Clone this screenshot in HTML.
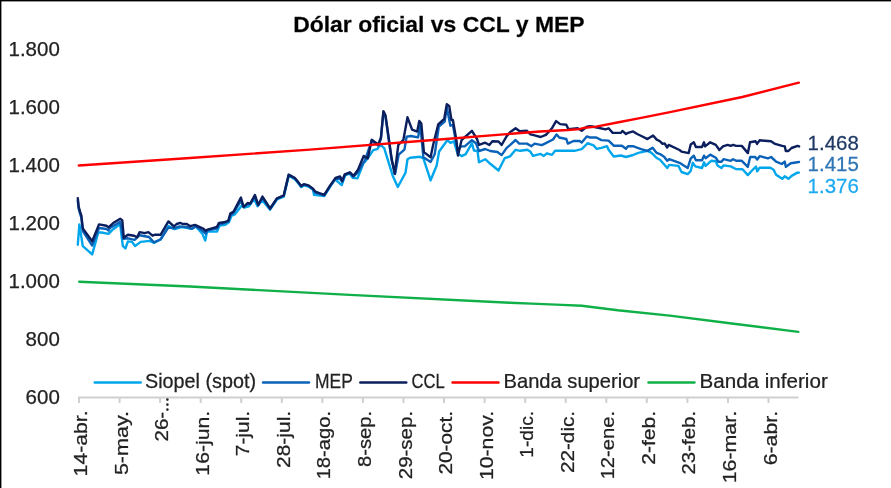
<!DOCTYPE html>
<html><head><meta charset="utf-8"><style>
html,body{margin:0;padding:0;background:#fff;}
body{width:891px;height:488px;overflow:hidden;position:relative;}
svg{position:absolute;left:0;top:0;will-change:transform;}
text{font-family:"Liberation Sans",sans-serif;fill:#222;stroke:#222;stroke-width:0.25px;}
.yl{font-size:20.5px;}
.xl{font-size:19px;}
.tt{font-size:22.5px;font-weight:bold;fill:#000;}
.lg{font-size:20px;}
.vl{font-size:21px;}
</style></head><body>
<svg width="891" height="488" viewBox="0 0 891 488">
<rect x="0" y="0" width="891" height="488" fill="#fff"/>
<text class="tt" transform="translate(438.9,32.1) scale(1.02,1)" text-anchor="middle">Dólar oficial vs CCL y MEP</text>
<text x="59.8" y="403.60" class="yl" text-anchor="end">600</text>
<text x="59.8" y="345.68" class="yl" text-anchor="end">800</text>
<text x="59.8" y="287.76" class="yl" text-anchor="end">1.000</text>
<text x="59.8" y="229.84" class="yl" text-anchor="end">1.200</text>
<text x="59.8" y="171.92" class="yl" text-anchor="end">1.400</text>
<text x="59.8" y="114.00" class="yl" text-anchor="end">1.600</text>
<text x="59.8" y="56.08" class="yl" text-anchor="end">1.800</text>
<path d="M78 397.4 H798.5" stroke="#d0d0d0" stroke-width="2" fill="none"/>
<path d="M79.0 397.4 V403 M119.6 397.4 V403 M160.1 397.4 V403 M200.7 397.4 V403 M241.2 397.4 V403 M281.8 397.4 V403 M322.4 397.4 V403 M362.9 397.4 V403 M403.5 397.4 V403 M444.0 397.4 V403 M484.6 397.4 V403 M525.2 397.4 V403 M565.7 397.4 V403 M606.3 397.4 V403 M646.8 397.4 V403 M687.4 397.4 V403 M728.0 397.4 V403 M768.5 397.4 V403" stroke="#d0d0d0" stroke-width="2" fill="none"/>
<text class="xl" transform="translate(79.0,410.40) rotate(-90) scale(1.1158,1)" text-anchor="end" x="0" y="8.0">14-abr.</text>
<text class="xl" transform="translate(119.6,410.90) rotate(-90) scale(1.1347,1)" text-anchor="end" x="0" y="8.0">5-may.</text>
<text class="xl" transform="translate(160.1,411.80) rotate(-90) scale(1.0800,1)" text-anchor="end" x="0" y="8.0">26-</text>
<circle cx="167.4" cy="399.6" r="1.3" fill="#262626"/>
<circle cx="167.4" cy="404.6" r="1.3" fill="#262626"/>
<circle cx="167.4" cy="409.6" r="1.3" fill="#262626"/>
<text class="xl" transform="translate(200.7,410.90) rotate(-90) scale(1.1144,1)" text-anchor="end" x="0" y="8.0">16-jun.</text>
<text class="xl" transform="translate(241.2,410.90) rotate(-90) scale(1.1006,1)" text-anchor="end" x="0" y="8.0">7-jul.</text>
<text class="xl" transform="translate(281.8,410.90) rotate(-90) scale(1.1021,1)" text-anchor="end" x="0" y="8.0">28-jul.</text>
<text class="xl" transform="translate(322.4,410.90) rotate(-90) scale(1.0630,1)" text-anchor="end" x="0" y="8.0">18-ago.</text>
<text class="xl" transform="translate(362.9,410.90) rotate(-90) scale(1.0609,1)" text-anchor="end" x="0" y="8.0">8-sep.</text>
<text class="xl" transform="translate(403.5,410.90) rotate(-90) scale(1.0793,1)" text-anchor="end" x="0" y="8.0">29-sep.</text>
<text class="xl" transform="translate(444.0,410.90) rotate(-90) scale(1.0965,1)" text-anchor="end" x="0" y="8.0">20-oct.</text>
<text class="xl" transform="translate(484.6,410.90) rotate(-90) scale(1.1151,1)" text-anchor="end" x="0" y="8.0">10-nov.</text>
<text class="xl" transform="translate(525.2,410.90) rotate(-90) scale(1.0097,1)" text-anchor="end" x="0" y="8.0">1-dic.</text>
<text class="xl" transform="translate(565.7,410.90) rotate(-90) scale(1.0909,1)" text-anchor="end" x="0" y="8.0">22-dic.</text>
<text class="xl" transform="translate(606.3,410.90) rotate(-90) scale(1.0630,1)" text-anchor="end" x="0" y="8.0">12-ene.</text>
<text class="xl" transform="translate(646.8,410.90) rotate(-90) scale(1.1068,1)" text-anchor="end" x="0" y="8.0">2-feb.</text>
<text class="xl" transform="translate(687.4,410.90) rotate(-90) scale(1.0760,1)" text-anchor="end" x="0" y="8.0">23-feb.</text>
<text class="xl" transform="translate(728.0,410.90) rotate(-90) scale(1.1242,1)" text-anchor="end" x="0" y="8.0">16-mar.</text>
<text class="xl" transform="translate(768.5,410.90) rotate(-90) scale(1.1217,1)" text-anchor="end" x="0" y="8.0">6-abr.</text>
<g fill="none" stroke-width="2.4" stroke-linejoin="round" stroke-linecap="round">
<path d="M77.8 244.7 L79.4 224.4 L82.8 246.1 L92.2 254.4 L98.3 232.5 L101.7 232.5 L108.5 233.9 L113.2 229.2 L120.2 224.0 L122.8 246.0 L125.4 248.5 L127.9 241.4 L132.0 241.9 L135.1 246.0 L140.7 241.9 L150.0 240.9 L154.0 242.9 L160.7 239.3 L168.4 226.0 L174.5 229.1 L181.7 227.0 L185.0 227.6 L191.7 228.9 L195.6 226.2 L202.3 233.6 L205.3 240.6 L207.0 231.6 L217.0 231.6 L219.6 225.6 L224.9 224.9 L228.9 222.3 L231.6 215.6 L234.9 214.3 L242.2 205.0 L244.2 207.6 L248.9 206.3 L254.2 199.0 L257.5 206.3 L262.2 200.3 L270.1 209.7 L276.9 199.5 L283.7 196.7 L288.7 175.8 L294.9 179.2 L297.7 182.6 L301.1 187.1 L303.9 185.4 L308.5 186.6 L313.0 189.9 L314.1 194.9 L324.2 196.1 L329.9 187.1 L335.0 179.4 L341.7 185.1 L345.2 175.3 L349.3 173.3 L352.9 177.9 L357.5 178.4 L363.7 162.5 L365.0 161.9 L369.1 156.3 L373.2 150.1 L377.3 149.1 L380.1 144.6 L384.2 148.2 L392.7 175.7 L397.8 187.0 L405.5 172.7 L407.5 159.3 L410.1 157.8 L420.3 156.8 L423.4 158.3 L430.6 180.3 L436.7 165.5 L439.1 151.5 L447.3 140.2 L450.4 142.8 L454.0 141.3 L457.5 153.6 L461.6 156.1 L465.7 154.1 L471.9 143.3 L473.9 150.5 L477.5 151.0 L479.0 162.3 L485.2 159.2 L490.3 163.8 L498.5 170.5 L504.7 158.2 L510.0 156.4 L515.6 149.8 L520.2 150.8 L527.4 149.8 L530.5 151.8 L533.0 155.9 L540.7 153.9 L543.8 155.9 L546.9 153.3 L552.0 154.9 L555.1 150.8 L574.5 150.8 L581.7 149.2 L587.8 143.1 L590.0 144.1 L593.2 145.2 L596.8 148.8 L601.4 147.8 L607.0 146.2 L608.6 149.8 L613.7 156.5 L620.9 155.5 L626.0 157.0 L633.1 155.0 L638.3 152.9 L647.5 150.9 L651.6 152.9 L656.7 158.0 L660.0 159.8 L663.1 163.3 L667.2 168.0 L669.2 164.9 L678.4 165.9 L681.5 172.0 L687.7 174.1 L690.7 171.0 L692.8 162.8 L695.3 166.4 L702.0 168.0 L704.0 162.3 L705.6 165.9 L711.2 160.8 L715.8 161.3 L717.4 165.4 L721.5 168.0 L723.5 165.4 L730.7 166.4 L735.8 169.0 L742.5 169.3 L747.8 175.1 L751.5 171.0 L756.0 166.5 L757.2 171.4 L759.7 167.7 L770.3 167.7 L773.6 169.8 L776.1 174.7 L782.2 178.8 L784.7 176.3 L788.4 178.8 L791.6 175.9 L797.4 172.6 L799.0 172.6" stroke="#00a6ec"/>
<path d="M77.8 201.0 L78.7 209.0 L80.1 214.0 L81.4 218.0 L82.8 231.0 L92.2 245.5 L99.0 228.0 L106.4 229.0 L108.5 230.5 L110.0 228.0 L120.2 221.9 L123.3 238.8 L127.9 238.3 L134.6 239.8 L139.7 235.2 L149.0 237.0 L153.9 242.4 L160.5 239.5 L168.3 227.6 L174.4 228.4 L179.3 226.4 L187.5 227.2 L191.6 228.9 L195.7 226.4 L203.6 231.6 L205.6 233.7 L207.6 230.3 L217.0 228.5 L219.0 224.3 L223.6 223.3 L228.3 221.5 L230.3 215.4 L233.6 212.7 L240.9 200.8 L243.6 206.9 L247.6 204.3 L250.2 203.9 L254.9 196.9 L258.2 205.1 L262.5 198.0 L270.1 208.9 L276.9 198.7 L283.7 195.9 L288.7 175.0 L294.9 178.4 L297.7 181.8 L301.1 186.3 L303.9 184.6 L308.5 185.8 L313.0 189.1 L315.2 192.7 L324.2 195.3 L329.9 186.3 L335.5 178.6 L340.1 179.0 L342.2 181.9 L344.7 175.1 L349.9 172.9 L353.4 176.6 L358.0 172.3 L365.0 160.0 L371.7 141.0 L378.3 145.5 L380.9 139.0 L383.4 112.3 L385.5 117.0 L391.6 160.0 L395.1 174.0 L398.7 154.6 L404.4 149.6 L406.6 136.7 L410.9 136.0 L418.0 137.4 L420.3 125.5 L423.4 157.3 L430.6 161.9 L434.7 154.2 L438.8 126.5 L444.7 121.6 L446.8 107.2 L450.4 125.7 L452.9 125.1 L457.5 150.0 L461.1 146.4 L464.7 146.4 L471.9 140.2 L476.0 143.3 L479.0 151.0 L485.2 149.0 L490.3 151.0 L497.5 152.0 L501.6 155.1 L506.7 147.9 L510.0 145.1 L515.6 140.0 L519.2 143.6 L526.9 143.6 L531.5 146.2 L534.6 143.6 L541.8 145.1 L545.9 143.1 L553.0 139.5 L556.6 134.4 L559.2 137.5 L566.3 139.0 L567.9 143.6 L573.5 141.0 L579.7 141.0 L581.7 142.6 L586.8 136.4 L590.0 137.5 L596.3 137.5 L601.4 140.1 L608.6 140.6 L613.7 145.7 L621.9 145.7 L626.0 148.8 L628.0 146.2 L633.1 146.2 L636.2 147.3 L641.9 149.3 L647.5 150.9 L652.6 147.8 L656.7 152.9 L660.0 154.1 L664.1 156.7 L667.2 160.8 L669.2 159.2 L679.5 162.8 L687.7 168.0 L690.7 158.7 L693.8 155.7 L695.9 160.3 L702.0 160.3 L704.0 155.7 L705.6 158.2 L710.2 154.6 L715.8 157.7 L718.4 161.8 L721.5 161.8 L723.5 159.2 L730.7 160.8 L733.1 159.2 L736.1 160.8 L741.8 160.8 L747.8 166.9 L750.2 157.0 L755.2 157.0 L757.2 159.5 L759.7 156.2 L767.9 158.3 L771.1 157.0 L776.1 161.6 L781.8 164.0 L784.7 161.6 L785.9 166.9 L790.8 163.2 L799.0 162.0" stroke="#0a62b8"/>
<path d="M77.8 198.1 L78.7 206.9 L80.1 211.6 L81.4 215.6 L82.8 228.5 L92.2 241.2 L99.0 224.4 L106.4 225.8 L108.5 227.4 L113.2 223.1 L120.2 218.8 L122.3 220.4 L123.8 237.8 L127.9 234.7 L134.1 235.7 L137.1 237.3 L139.7 232.1 L144.8 233.2 L148.4 232.1 L152.5 235.7 L155.1 234.7 L160.7 234.7 L168.4 221.4 L174.0 226.5 L176.6 224.0 L180.2 222.9 L182.7 224.0 L186.8 224.0 L190.3 226.2 L195.0 224.9 L203.6 228.9 L205.6 230.9 L207.6 229.6 L217.0 226.9 L219.0 222.9 L223.6 222.3 L228.3 220.9 L230.3 213.6 L233.6 211.6 L240.9 197.6 L243.6 207.0 L247.6 203.0 L250.2 203.6 L254.9 195.0 L258.2 205.0 L262.5 196.6 L270.1 208.5 L276.9 198.3 L283.7 195.5 L288.7 174.6 L294.9 178.0 L297.7 181.4 L301.1 185.9 L303.9 184.2 L308.5 185.4 L313.0 188.7 L315.2 191.5 L324.2 194.9 L329.9 185.9 L335.5 178.0 L340.1 176.4 L342.2 181.0 L344.7 174.3 L349.9 172.3 L353.4 175.9 L358.0 169.7 L363.7 155.9 L367.8 158.4 L371.7 139.8 L378.3 144.4 L380.9 137.8 L383.4 111.1 L385.5 115.2 L391.6 158.3 L394.7 173.7 L398.3 145.0 L403.4 139.8 L407.5 117.3 L412.1 129.6 L417.2 131.6 L419.3 120.9 L421.3 123.4 L423.9 152.1 L430.6 157.3 L433.1 145.0 L438.2 124.5 L444.2 119.0 L446.8 104.1 L449.3 106.2 L451.4 120.0 L452.9 120.0 L456.5 141.0 L458.0 155.6 L461.6 140.0 L471.9 130.8 L477.0 139.0 L479.0 144.9 L485.2 142.7 L489.3 145.0 L492.4 141.3 L498.5 141.5 L501.6 145.0 L506.7 136.1 L510.0 132.3 L515.6 128.2 L519.7 131.3 L526.9 130.8 L530.5 134.4 L534.6 135.4 L540.7 137.0 L545.9 134.9 L552.0 128.2 L556.1 121.1 L560.2 124.1 L566.3 124.7 L568.4 129.3 L577.6 128.2 L581.7 130.8 L586.8 126.7 L590.0 126.2 L593.2 126.8 L598.3 127.8 L605.5 129.3 L608.6 128.3 L612.7 132.9 L620.9 132.9 L622.4 130.9 L626.0 134.0 L628.0 132.9 L633.1 131.4 L637.2 134.0 L642.4 136.5 L647.5 139.1 L653.1 135.5 L656.7 139.6 L660.0 141.3 L662.6 143.9 L664.6 143.4 L667.2 147.5 L668.7 144.9 L679.5 150.0 L681.5 151.6 L688.7 153.1 L690.7 144.4 L693.8 142.3 L695.9 147.0 L702.0 147.0 L704.0 142.3 L705.1 146.4 L710.2 142.3 L715.8 144.9 L719.4 150.0 L723.0 146.4 L727.6 144.9 L730.7 145.9 L733.1 144.9 L736.1 145.9 L741.8 145.9 L747.9 153.1 L750.0 142.3 L755.6 141.3 L757.1 143.9 L759.7 140.3 L764.8 140.8 L771.0 141.3 L775.1 143.9 L782.2 145.9 L784.8 146.4 L785.8 151.0 L788.4 151.0 L791.5 148.0 L797.6 145.9 L799.1 146.4" stroke="#0b1f5e"/>
<path d="M78.8 165.5 L190.0 158.0 L310.0 149.6 L430.0 140.3 L540.0 131.5 L568.0 130.0 L579.3 129.1 L584.9 127.7 L596.1 126.6 L618.6 122.3 L639.9 118.1 L670.0 112.1 L742.3 97.0 L798.8 82.6" stroke="#ff0000"/>
<path d="M79.2 281.7 L189.9 286.5 L349.8 294.9 L509.8 302.7 L531.5 303.6 L562.0 304.9 L581.8 305.8 L617.7 310.3 L669.8 315.6 L731.8 323.5 L798.3 331.9" stroke="#10b048"/>
</g>
<path d="M94.7 382.5 H140.7" stroke="#00a6ec" stroke-width="2.4" stroke-linecap="round"/>
<text class="lg" transform="translate(145.00,388.0) scale(0.9892,1)" x="0" y="0">Siopel (spot)</text>
<path d="M263.0 382.5 H309.0" stroke="#0a62b8" stroke-width="2.4" stroke-linecap="round"/>
<text class="lg" transform="translate(315.00,388.0) scale(0.8718,1)" x="0" y="0">MEP</text>
<path d="M360.3 382.5 H406.3" stroke="#0b1f5e" stroke-width="2.4" stroke-linecap="round"/>
<text class="lg" transform="translate(411.50,388.0) scale(0.8308,1)" x="0" y="0">CCL</text>
<path d="M452.5 382.5 H498.5" stroke="#ff0000" stroke-width="2.4" stroke-linecap="round"/>
<text class="lg" transform="translate(503.50,388.0) scale(1.0074,1)" x="0" y="0">Banda superior</text>
<path d="M648.5 382.5 H694.5" stroke="#10b048" stroke-width="2.4" stroke-linecap="round"/>
<text class="lg" transform="translate(699.50,388.0) scale(1.0307,1)" x="0" y="0">Banda inferior</text>
<text class="vl" transform="translate(807.6,149.6) scale(0.975,1)" style="fill:#1f3864;stroke:#1f3864">1.468</text>
<text class="vl" transform="translate(807.6,171.2) scale(0.975,1)" style="fill:#2e75b6;stroke:#2e75b6">1.415</text>
<text class="vl" transform="translate(807.6,192.9) scale(0.975,1)" style="fill:#1eaaf1;stroke:#1eaaf1">1.376</text>
<rect x="0.6" y="0.6" width="1000" height="1000" fill="none" stroke="#000" stroke-width="1.6"/>
</svg>
</body></html>
